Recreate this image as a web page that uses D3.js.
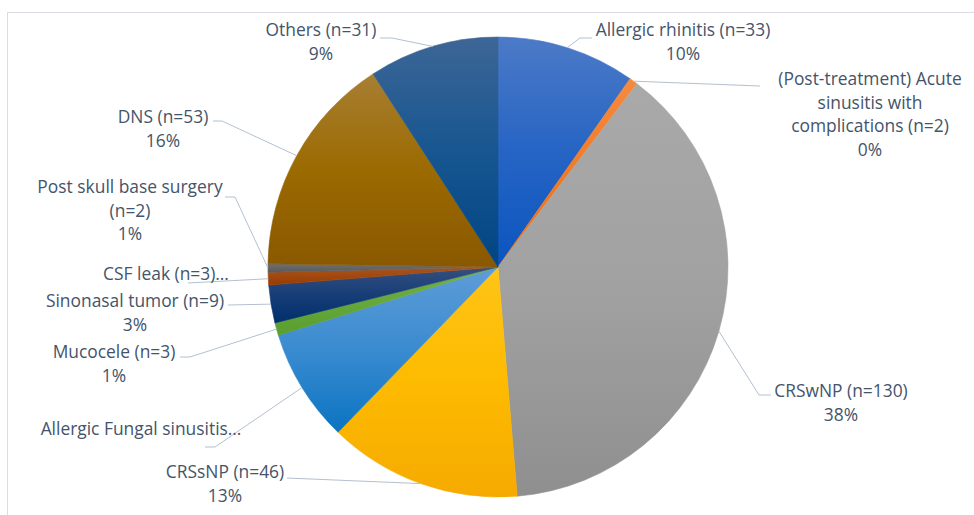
<!DOCTYPE html>
<html>
<head>
<meta charset="utf-8">
<script src="https://cdn.jsdelivr.net/npm/d3@7"></script>
<style>
  body { margin: 0; background: #fff; }
  svg { display: block; }
</style>
</head>
<body>
<svg id="chart"></svg>
<script>
// data, clockwise from 12 o'clock
const categories = ["Allergic rhinitis", "(Post-treatment) Acute sinusitis with complications", "CRSwNP", "CRSsNP",
  "Allergic Fungal sinusitis", "Mucocele", "Sinonasal tumor", "CSF leak", "Post skull base surgery", "DNS", "Others"];
const counts = [33, 2, 130, 46, 27, 3, 9, 3, 2, 53, 31];
const pctLabels = ["10%", "0%", "38%", "13%", "8%", "1%", "3%", "1%", "1%", "16%", "9%"];
// label text as shown (Excel wraps / truncates some of them)
const labelLines = [
  ["Allergic rhinitis (n=33)", "10%"],
  ["(Post-treatment) Acute", "sinusitis with", "complications (n=2)", "0%"],
  ["CRSwNP (n=130)", "38%"],
  ["CRSsNP (n=46)", "13%"],
  ["Allergic Fungal sinusitis…"],
  ["Mucocele (n=3)", "1%"],
  ["Sinonasal tumor (n=9)", "3%"],
  ["CSF leak (n=3)…"],
  ["Post skull base surgery", "(n=2)", "1%"],
  ["DNS (n=53)", "16%"],
  ["Others (n=31)", "9%"]
];

// gradient colours per slice: top, middle, bottom
const fills = [
  ["#4c7ac7", "#2664c4", "#0a55bf"],
  ["#f68a3e", "#f27a26", "#ee6c10"],
  ["#a9a9a9", "#a1a1a1", "#8f8f8f"],
  ["#ffc417", "#fdbb00", "#f6aa00"],
  ["#5e9dd7", "#3a8bd0", "#0b74c1"],
  ["#72b04a", "#66a83b", "#5a9e2e"],
  ["#34507f", "#173d77", "#00306c"],
  ["#a85520", "#a2480e", "#983c00"],
  ["#707070", "#656565", "#5a5a5a"],
  ["#a77f33", "#9b6a00", "#8a5800"],
  ["#3d6696", "#175690", "#004584"]
];

// layout: label centre x, first baseline, and leader start points on the label side
const labelLayout = [
  {x: 683, y: 36, lead: [[592, 38], [580, 38]]},
  {x: 870, y: 85, lead: [[760, 86]]},
  {x: 841, y: 397, lead: [[771, 395], [759, 395]]},
  {x: 225, y: 478, lead: [[287, 478]]},
  {x: 141, y: 435, lead: [[205, 447], [215, 447]]},
  {x: 114, y: 358, lead: [[180, 357], [190, 357]]},
  {x: 135, y: 307, lead: [[228, 305]]},
  {x: 166, y: 280, lead: [[188, 283]]},
  {x: 130, y: 193, lead: [[225, 197], [235, 197]]},
  {x: 163, y: 123, lead: [[213, 121], [222, 121]]},
  {x: 321, y: 36, lead: [[380, 38], [392, 38]]}
];

const W = 974, H = 515;
const cx = 498, cy = 267, R = 230;
const lineH = 23.7;

const svg = d3.select("#chart").attr("width", W).attr("height", H);

svg.append("rect")
  .attr("x", 7.5).attr("y", 12.5)
  .attr("width", W + 20).attr("height", H + 20)
  .attr("fill", "#fff")
  .attr("stroke", "#d9dde3");

const defs = svg.append("defs");
fills.forEach((f, i) => {
  const g = defs.append("linearGradient")
    .attr("id", "grad" + i)
    .attr("x1", 0).attr("y1", 0).attr("x2", 0).attr("y2", 1);
  g.append("stop").attr("offset", "0%").attr("stop-color", f[0]);
  g.append("stop").attr("offset", "50%").attr("stop-color", f[1]);
  g.append("stop").attr("offset", "100%").attr("stop-color", f[2]);
});

const pie = d3.pie().sort(null).value(d => d);
const arcs = pie(counts);
const arc = d3.arc().innerRadius(0).outerRadius(R);
const edge = d3.arc().innerRadius(R).outerRadius(R);

const g = svg.append("g").attr("transform", `translate(${cx},${cy})`);

g.selectAll("path.slice")
  .data(arcs)
  .join("path")
  .attr("class", "slice")
  .attr("d", arc)
  .attr("fill", (d, i) => `url(#grad${i})`)
  .attr("stroke", (d, i) => `url(#grad${i})`)
  .attr("stroke-width", 0.6);

// leader lines
const line = d3.line();
svg.selectAll("path.leader")
  .data(arcs)
  .join("path")
  .attr("class", "leader")
  .attr("d", (d, i) => {
    const c = edge.centroid(d);
    const pts = labelLayout[i].lead.concat([[cx + c[0], cy + c[1]]]);
    return line(pts);
  })
  .attr("fill", "none")
  .attr("stroke", "#b4c0d0")
  .attr("stroke-width", 1);

// labels
const labels = svg.selectAll("text.lbl")
  .data(labelLines)
  .join("text")
  .attr("class", "lbl")
  .attr("text-anchor", "middle")
  .attr("font-family", "'Open Sans', 'Noto Sans', sans-serif")
  .attr("font-size", 17.4)
  .attr("fill", "#44546a");

labels.each(function(lines, i) {
  const t = d3.select(this);
  lines.forEach((s, k) => {
    t.append("tspan")
      .attr("x", labelLayout[i].x)
      .attr("y", labelLayout[i].y + k * lineH)
      .text(s);
  });
});
</script>
</body>
</html>
